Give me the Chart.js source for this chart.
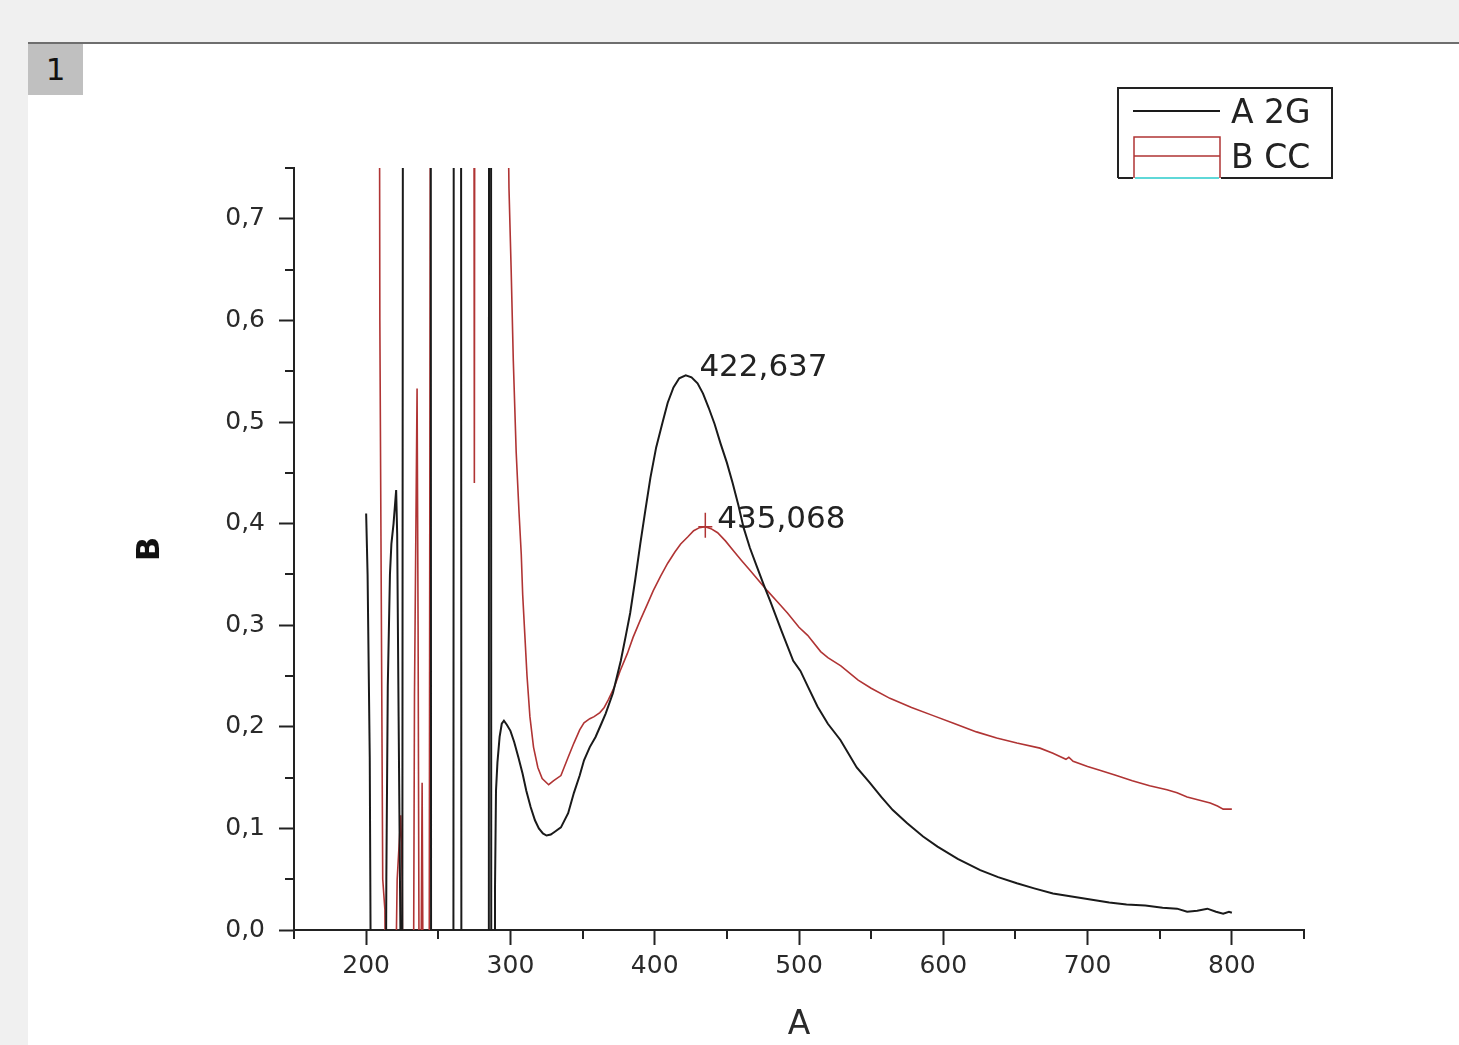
<!DOCTYPE html>
<html>
<head>
<meta charset="utf-8">
<script src="https://cdn.jsdelivr.net/npm/chart.js@4"></script>
<style>
  html, body { margin: 0; padding: 0; background: #f0f0f0; width: 1459px; height: 1045px; overflow: hidden; font-family: 'DejaVu Sans', sans-serif; }
  #painel { position: absolute; left: 28px; top: 42px; right: 0; bottom: 0; background: #fff; border-top: 2px solid #6e6e6e; }
  #aba { position: absolute; left: 28px; top: 44px; width: 55px; height: 51px; background: #c0c0c0; font-size: 31px; line-height: 51px; text-align: center; color: #111; }
  #caixa { position: absolute; left: 0; top: 0; width: 1459px; height: 1045px; }
</style>
</head>
<body>
<div id="painel"></div>
<div id="aba">1</div>
<div id="caixa"><canvas id="grafico"></canvas></div>
<script>
// serie A 2G
const aX = [200, 201, 202.5, 204, 213, 214, 215, 216.5, 217.5, 219, 220.8, 221.5, 222.5, 223.5, 225, 226, 244.5, 245.5, 260, 261, 265.5, 266.5, 284.8, 285.3, 286.4, 287, 288.8, 289.3, 290, 291, 292.5, 294, 295.5, 297.5, 300, 302.6, 305.5, 308.4, 311, 314, 317, 319.7, 322.5, 325, 328, 331, 335, 340, 344, 348, 351, 355, 359, 363, 366, 371, 376.5, 380, 383, 386.5, 390, 393.5, 397, 401, 405.5, 409, 413, 417, 421.5, 425.5, 429.7, 433.5, 437.4, 441.5, 445.6, 450, 454, 458, 461.6, 466, 471, 475.5, 480, 488, 496, 501, 506, 512.8, 520, 528.7, 540, 549, 557, 565, 575, 586, 596, 610, 625.6, 638, 651, 663, 676, 689, 702, 715, 727, 740, 752, 762, 769, 776, 783, 789, 794, 798, 800];
const aY = [0.41, 0.35, 0.17, -0.3, -0.3, 0.05, 0.24, 0.35, 0.38, 0.40, 0.433, 0.39, 0.21, 0.04, -0.2, 2.0, 2.0, -2.0, -2.0, 2.0, 2.0, -2.0, -2.0, 2.0, 2.0, -2.0, -0.1, 0.04, 0.137, 0.165, 0.19, 0.203, 0.206, 0.202, 0.196, 0.185, 0.170, 0.154, 0.137, 0.121, 0.108, 0.100, 0.095, 0.093, 0.094, 0.097, 0.101, 0.115, 0.135, 0.152, 0.167, 0.180, 0.190, 0.203, 0.213, 0.233, 0.265, 0.290, 0.312, 0.345, 0.380, 0.413, 0.445, 0.475, 0.500, 0.519, 0.534, 0.543, 0.546, 0.544, 0.538, 0.528, 0.514, 0.498, 0.479, 0.460, 0.440, 0.418, 0.396, 0.376, 0.357, 0.340, 0.324, 0.294, 0.265, 0.255, 0.240, 0.220, 0.203, 0.187, 0.160, 0.145, 0.131, 0.118, 0.105, 0.092, 0.082, 0.070, 0.059, 0.052, 0.046, 0.041, 0.036, 0.033, 0.030, 0.027, 0.025, 0.024, 0.022, 0.021, 0.018, 0.019, 0.021, 0.018, 0.016, 0.018, 0.017];

// serie B CC
const bX = [200, 208.5, 209.5, 211.5, 213, 214.5, 220, 221.5, 224, 225, 226, 232.5, 233.5, 235.3, 236, 237, 237.8, 238.8, 239.6, 243.5, 245.5, 274, 275, 276, 297, 299, 300.5, 302, 304, 306, 307.5, 308.5, 310, 311.5, 313.5, 316, 319, 322, 326.5, 330, 335, 340, 344, 348, 351, 355, 358, 362, 365, 368, 372, 376, 381, 385, 390, 395, 399, 404, 409, 414, 418, 423, 427, 431, 435, 439, 443.6, 449, 454.7, 460, 466, 472, 478, 485, 492, 500, 506, 515, 520, 529, 541, 550, 563, 578, 593, 608, 623, 637, 651, 667, 676, 685, 687, 690, 700, 709, 720, 731, 743, 755, 762, 769, 777, 785, 790, 794, 800];
const bY = [1.5, 1.5, 0.6, 0.05, 0.02, -0.3, -0.1, 0.05, 0.113, 0.05, -0.3, -0.2, 0.23, 0.533, 0.3, -0.2, -0.1, 0.145, -0.1, -0.3, 2.0, 2.0, 0.44, 2.0, 0.95, 0.73, 0.65, 0.56, 0.47, 0.41, 0.37, 0.33, 0.29, 0.25, 0.21, 0.18, 0.16, 0.149, 0.143, 0.147, 0.152, 0.170, 0.184, 0.197, 0.204, 0.208, 0.210, 0.214, 0.219, 0.227, 0.239, 0.255, 0.272, 0.288, 0.305, 0.321, 0.334, 0.348, 0.361, 0.372, 0.380, 0.387, 0.393, 0.396, 0.397, 0.395, 0.391, 0.383, 0.373, 0.364, 0.354, 0.344, 0.334, 0.323, 0.312, 0.298, 0.290, 0.274, 0.268, 0.260, 0.246, 0.238, 0.228, 0.219, 0.211, 0.203, 0.195, 0.189, 0.184, 0.179, 0.174, 0.168, 0.170, 0.166, 0.161, 0.157, 0.152, 0.147, 0.142, 0.138, 0.135, 0.131, 0.128, 0.125, 0.122, 0.119, 0.119];

// picos marcados
const picosX = [422.637, 435.068];
const picosY = [0.546, 0.397];

// marcas dos eixos
const xTicks = [200, 300, 400, 500, 600, 700, 800];
const xMenores = [150, 250, 350, 450, 550, 650, 750, 850];
const yTicks = [0.0, 0.1, 0.2, 0.3, 0.4, 0.5, 0.6, 0.7];
const yMenores = [0.05, 0.15, 0.25, 0.35, 0.45, 0.55, 0.65, 0.75];

const corA = '#1a1a1a';
const corB = '#b03434';
const fonte = '"DejaVu Sans", sans-serif';

Chart.defaults.font.family = fonte;
Chart.defaults.color = '#2a2a2a';

function pares(xs, ys) {
    return xs.map(function(x, i) { return {x: x, y: ys[i]}; });
}

function virgula(v, casas) {
    return v.toFixed(casas).replace('.', ',');
}

// tracinhos menores nos eixos
const menores = {
    id: 'menores',
    afterDraw(chart) {
        const c = chart.ctx;
        const sx = chart.scales.x, sy = chart.scales.y;
        c.save();
        c.strokeStyle = '#222';
        c.lineWidth = 2;
        c.beginPath();
        xMenores.forEach(function(v) {
            const p = Math.round(sx.getPixelForValue(v));
            c.moveTo(p, sx.top);
            c.lineTo(p, sx.top + 9);
        });
        yMenores.forEach(function(v) {
            const p = Math.round(sy.getPixelForValue(v));
            c.moveTo(sy.right, p);
            c.lineTo(sy.right - 9, p);
        });
        c.stroke();
        c.restore();
    }
};

// rotulos dos picos
const picos = {
    id: 'picos',
    afterDatasetsDraw(chart) {
        const c = chart.ctx;
        const sx = chart.scales.x, sy = chart.scales.y;
        c.save();
        c.font = '31px ' + fonte;
        c.fillStyle = '#222';
        c.textBaseline = 'alphabetic';
        picosX.forEach(function(v, i) {
            const px = sx.getPixelForValue(v);
            const py = sy.getPixelForValue(picosY[i]);
            c.fillText(virgula(v, 3), px + 12, py + 1);
        });
        const bx = sx.getPixelForValue(picosX[1]);
        const by = sy.getPixelForValue(picosY[1]);
        c.strokeStyle = corB;
        c.lineWidth = 1.5;
        c.beginPath();
        c.moveTo(bx, by - 14); c.lineTo(bx, by + 11);
        c.moveTo(bx - 7, by); c.lineTo(bx + 7, by);
        c.stroke();
        c.restore();
    }
};

// legenda no canto
const legenda = {
    id: 'legenda',
    afterDraw(chart) {
        const c = chart.ctx;
        const nomes = chart.data.datasets.map(function(d) { return d.label; });
        c.save();
        c.lineWidth = 2;
        c.strokeStyle = '#222';
        c.beginPath();
        c.moveTo(1118, 178); c.lineTo(1118, 88); c.lineTo(1332, 88); c.lineTo(1332, 178); c.lineTo(1221, 178);
        c.moveTo(1133, 178); c.lineTo(1118, 178);
        c.stroke();
        c.strokeStyle = corA;
        c.beginPath(); c.moveTo(1133, 111); c.lineTo(1220, 111); c.stroke();
        c.strokeStyle = corB;
        c.lineWidth = 1.5;
        c.beginPath();
        c.moveTo(1134, 178); c.lineTo(1134, 137); c.lineTo(1220, 137); c.lineTo(1220, 178);
        c.moveTo(1134, 156); c.lineTo(1220, 156);
        c.stroke();
        c.strokeStyle = '#5fd8d8';
        c.lineWidth = 2;
        c.beginPath(); c.moveTo(1135, 178); c.lineTo(1219, 178); c.stroke();
        c.font = '33px ' + fonte;
        c.fillStyle = '#222';
        c.textBaseline = 'alphabetic';
        c.fillText(nomes[0], 1231, 123);
        c.fillText(nomes[1], 1231, 168);
        c.restore();
    }
};

const chart = new Chart(document.getElementById('grafico'), {
    type: 'line',
    data: {
        datasets: [
            {
                label: 'A 2G',
                data: pares(aX, aY),
                borderColor: corA,
                borderWidth: 2,
                pointRadius: 0,
                tension: 0,
                fill: false
            },
            {
                label: 'B CC',
                data: pares(bX, bY),
                borderColor: corB,
                borderWidth: 1.6,
                pointRadius: 0,
                tension: 0,
                fill: false
            }
        ]
    },
    options: {
        responsive: true,
        maintainAspectRatio: false,
        animation: false,
        events: [],
        layout: {
            padding: {left: 0, top: 168, right: 155, bottom: 0}
        },
        plugins: {
            legend: {display: false},
            tooltip: {enabled: false}
        },
        scales: {
            x: {
                type: 'linear',
                min: 150,
                max: 850,
                afterBuildTicks: function(scale) {
                    scale.ticks = xTicks.map(function(v) { return {value: v}; });
                },
                afterFit: function(scale) { scale.height = 115; },
                border: {display: true, color: '#222', width: 2},
                grid: {drawOnChartArea: false, tickLength: 15, tickColor: '#222', tickWidth: 2},
                ticks: {
                    font: {size: 25},
                    color: '#2a2a2a',
                    padding: 6,
                    maxRotation: 0,
                    callback: function(value) { return String(value); }
                },
                title: {
                    display: true,
                    text: 'A',
                    font: {size: 33},
                    color: '#2a2a2a',
                    padding: {top: 0, bottom: 0}
                }
            },
            y: {
                min: 0,
                max: 0.75,
                afterBuildTicks: function(scale) {
                    scale.ticks = yTicks.map(function(v) { return {value: v}; });
                },
                afterFit: function(scale) { scale.width = 294; },
                border: {display: true, color: '#222', width: 2},
                grid: {drawOnChartArea: false, tickLength: 15, tickColor: '#222', tickWidth: 2},
                ticks: {
                    font: {size: 25},
                    color: '#2a2a2a',
                    padding: 14,
                    callback: function(value) { return virgula(value, 1); }
                },
                title: {
                    display: true,
                    text: 'B',
                    font: {size: 32, weight: 'bold'},
                    color: '#111',
                    padding: {top: 131, bottom: 0}
                }
            }
        }
    },
    plugins: [menores, picos, legenda]
});
</script>
</body>
</html>
